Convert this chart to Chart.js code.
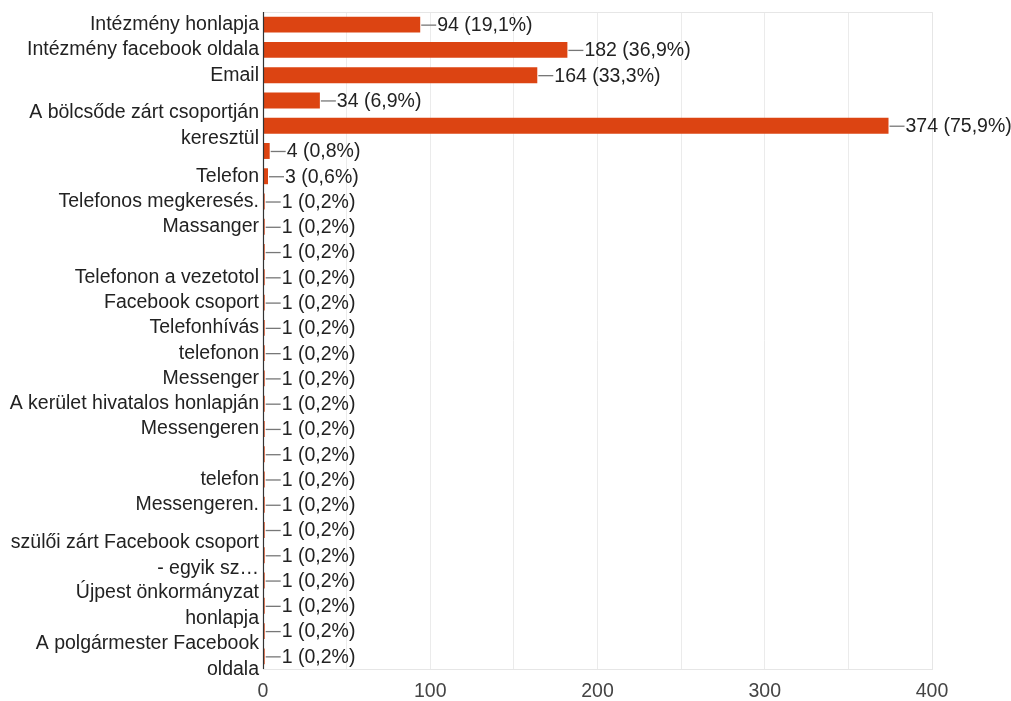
<!DOCTYPE html>
<html>
<head>
<meta charset="utf-8">
<script src="https://cdn.jsdelivr.net/npm/chart.js@4"></script>
<style>
  html, body { margin: 0; padding: 0; background: #fff; }
  #wrap { width: 1011px; height: 701px; }
</style>
</head>
<body>
<div id="wrap"><canvas id="myChart"></canvas></div>
<script>
// labels as Google Forms shows them (some hidden by overlap, long ones wrapped)
const categories = [
    'Intézmény honlapja',
    'Intézmény facebook oldala',
    'Email',
    '',
    ['A bölcsőde zárt csoportján', 'keresztül'],
    '',
    'Telefon',
    'Telefonos megkeresés.',
    'Massanger',
    '',
    'Telefonon a vezetotol',
    'Facebook csoport',
    'Telefonhívás',
    'telefonon',
    'Messenger',
    'A kerület hivatalos honlapján',
    'Messengeren',
    '',
    'telefon',
    'Messengeren.',
    '',
    ['szülői zárt Facebook csoport', '- egyik sz…'],
    '',
    ['Újpest önkormányzat', 'honlapja'],
    '',
    ['A polgármester Facebook', 'oldala']
];
const counts = [94, 182, 164, 34, 374, 4, 3, 1, 1, 1, 1, 1, 1, 1, 1, 1, 1, 1, 1, 1, 1, 1, 1, 1, 1, 1];
const percents = ['19,1', '36,9', '33,3', '6,9', '75,9', '0,8', '0,6', '0,2', '0,2', '0,2', '0,2', '0,2', '0,2',
    '0,2', '0,2', '0,2', '0,2', '0,2', '0,2', '0,2', '0,2', '0,2', '0,2', '0,2', '0,2', '0,2'];
const xTicks = [0, 100, 200, 300, 400];

const fontFamily = 'Liberation Sans, Arial, sans-serif';
const fontSize = 19.5;

// frame, dark baseline and value labels with leader lines
const annotate = {
    id: 'annotate',
    beforeDatasetsDraw(chart) {
        const a = chart.chartArea;
        const ctx = chart.ctx;
        ctx.save();
        ctx.strokeStyle = '#e6e6e6';
        ctx.lineWidth = 1;
        ctx.beginPath();
        ctx.moveTo(a.left, a.top + 0.5);
        ctx.lineTo(a.right + 0.5, a.top + 0.5);
        ctx.lineTo(a.right + 0.5, a.bottom + 0.5);
        ctx.stroke();
        ctx.restore();
    },
    afterDraw(chart) {
        const ctx = chart.ctx;
        const a = chart.chartArea;
        const meta = chart.getDatasetMeta(0);
        ctx.save();
        ctx.strokeStyle = '#333';
        ctx.lineWidth = 1.2;
        ctx.beginPath();
        ctx.moveTo(a.left + 0.5, a.top);
        ctx.lineTo(a.left + 0.5, a.bottom);
        ctx.stroke();
        ctx.font = fontSize + 'px ' + fontFamily;
        ctx.textBaseline = 'middle';
        ctx.fillStyle = '#222';
        meta.data.forEach(function (bar, i) {
            const x = bar.x;
            const y = bar.y;
            ctx.strokeStyle = '#777';
            ctx.lineWidth = 1.3;
            ctx.beginPath();
            ctx.moveTo(x + 1, y + 0.5);
            ctx.lineTo(x + 16, y + 0.5);
            ctx.stroke();
            ctx.fillText(counts[i] + ' (' + percents[i] + '%)', x + 17, y + 1);
        });
        ctx.restore();
    }
};

const data = {
    labels: categories,
    datasets: [{
        data: counts,
        backgroundColor: '#dc4412',
        borderWidth: 0,
        barPercentage: 0.63,
        categoryPercentage: 1
    }]
};

const config = {
    type: 'bar',
    data: data,
    options: {
        indexAxis: 'y',
        responsive: true,
        maintainAspectRatio: false,
        animation: false,
        layout: { padding: { top: 12, right: 79, left: 0, bottom: 0 } },
        plugins: {
            legend: { display: false },
            tooltip: { enabled: false }
        },
        scales: {
            x: {
                min: 0,
                max: 400,
                afterBuildTicks(scale) {
                    scale.ticks = [0, 50, 100, 150, 200, 250, 300, 350, 400].map(v => ({ value: v }));
                },
                afterFit(scale) {
                    scale.height = 32;
                    scale.paddingLeft = 0;
                    scale.paddingRight = 0;
                },
                ticks: {
                    autoSkip: false,
                    maxRotation: 0,
                    padding: 11,
                    color: '#444',
                    font: { size: fontSize, family: fontFamily },
                    callback: v => xTicks.includes(v) ? String(v) : ''
                },
                grid: { color: '#ebebeb', drawTicks: false },
                border: { display: true, color: '#e6e6e6' }
            },
            y: {
                afterFit(scale) {
                    scale.width = 263;
                    scale.paddingTop = 0;
                    scale.paddingBottom = 0;
                },
                ticks: {
                    autoSkip: false,
                    padding: 4,
                    color: '#222',
                    font: { size: fontSize, family: fontFamily, lineHeight: 1.33 }
                },
                grid: { display: false, drawTicks: false },
                border: { display: false }
            }
        }
    },
    plugins: [annotate]
};

const myChart = new Chart(document.getElementById('myChart'), config);
</script>
</body>
</html>
